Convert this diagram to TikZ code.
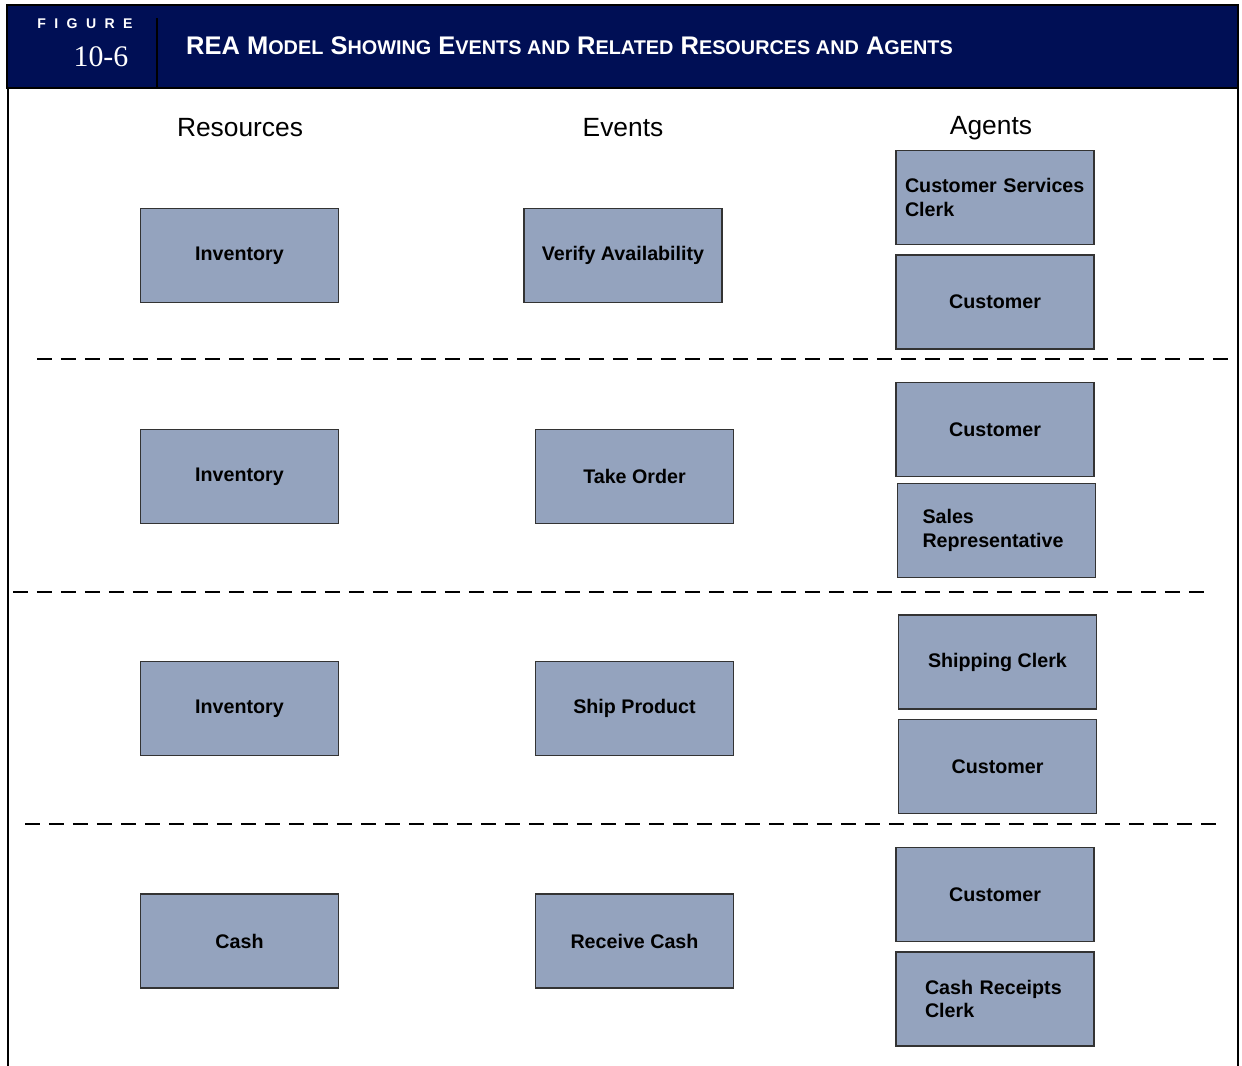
\documentclass[tikz,border=0pt]{standalone}
\usepackage{fontspec}
\setmainfont{Liberation Sans}
\newfontfamily\serifnum{Liberation Serif}
\newfontfamily\spacedfont[LetterSpace=60]{Liberation Sans}
\usetikzlibrary{positioning}
\definecolor{navyband}{HTML}{000F55}
\definecolor{boxfill}{HTML}{94A3BE}
\newcommand\smcap[1]{{\fontsize{11.3}{13}\selectfont\MakeUppercase{#1}}}

\begin{document}
\begin{tikzpicture}[
    x=0.02cm, y=-0.02cm,
    entity/.style={rectangle, draw=black!80, line width=0.6pt, fill=boxfill, minimum width=3.96cm, minimum height=1.88cm, align=center, font=\fontsize{11.2}{13.6}\selectfont\bfseries, inner sep=0pt},
    leftbox/.style={entity, align=left, inner xsep=#1, text width=3.96cm-2*#1},
    heading/.style={font=\fontsize{15}{18}\selectfont},
    divider/.style={line width=1.4pt, dash pattern=on 0.3cm off 0.18cm},
    frame/.style={line width=1.1pt}
]
\useasboundingbox (0,0) rectangle (1242,1066);

% Header band
\draw[frame, fill=navyband] (7,5) rectangle (1238,88);
\draw[line width=1.2pt] (157,18) -- (157,88);
\node[font=\spacedfont\bfseries\fontsize{8}{9}\selectfont, white] (figword) at (85,24) {FIGURE};
\node[font=\serifnum\fontsize{17}{20}\selectfont, white] (fignum) at (101,57) {10-6};
\node[anchor=west, font=\bfseries\fontsize{14.5}{17}\selectfont, white] (title) at (180,46)
    {REA M\smcap{odel} S\smcap{howing} E\smcap{vents and} R\smcap{elated} R\smcap{esources and} A\smcap{gents}};

% Frame
\draw[frame] (8,88) -- (8,1066);
\draw[frame] (1238,88) -- (1238,1066);

% Column headings
\node[heading] (hres) at (240,128) {Resources};
\node[heading] (hevt) at (623,128) {Events};
\node[heading] (hagt) at (991,128) {Agents};

% Row 1
\node[entity] (inv1) at (239.5,255.5) {Inventory};
\node[entity] (verify) at (623,255.5) {Verify Availability};
\node[leftbox=0.18cm] (csclerk) at (995,197.5) {Customer Services\\Clerk};
\node[entity] (cust1) at (995,302) {Customer};
\draw[divider] (37,359) -- (1232,359);

% Row 2
\node[entity] (inv2) at (239.5,476.5) {Inventory};
\node[entity] (takeorder) at (634.5,476.5) {Take Order};
\node[entity] (cust2) at (995,429.5) {Customer};
\node[leftbox=0.5cm] (salesrep) at (996.5,530.5) {Sales\\Representative};
\draw[divider] (13,592) -- (1210,592);

% Row 3
\node[entity] (inv3) at (239.5,708.5) {Inventory};
\node[entity] (ship) at (634.5,708.5) {Ship Product};
\node[entity] (shipclerk) at (997.5,662) {Shipping Clerk};
\node[entity] (cust3) at (997.5,766.5) {Customer};
\draw[divider] (25,824) -- (1222,824);

% Row 4
\node[entity] (cash) at (239.5,941) {Cash};
\node[entity] (receive) at (634.5,941) {Receive Cash};
\node[entity] (cust4) at (995,894.5) {Customer};
\node[leftbox=0.58cm] (crclerk) at (995,999) {Cash Receipts\\Clerk};
\end{tikzpicture}
\end{document}
